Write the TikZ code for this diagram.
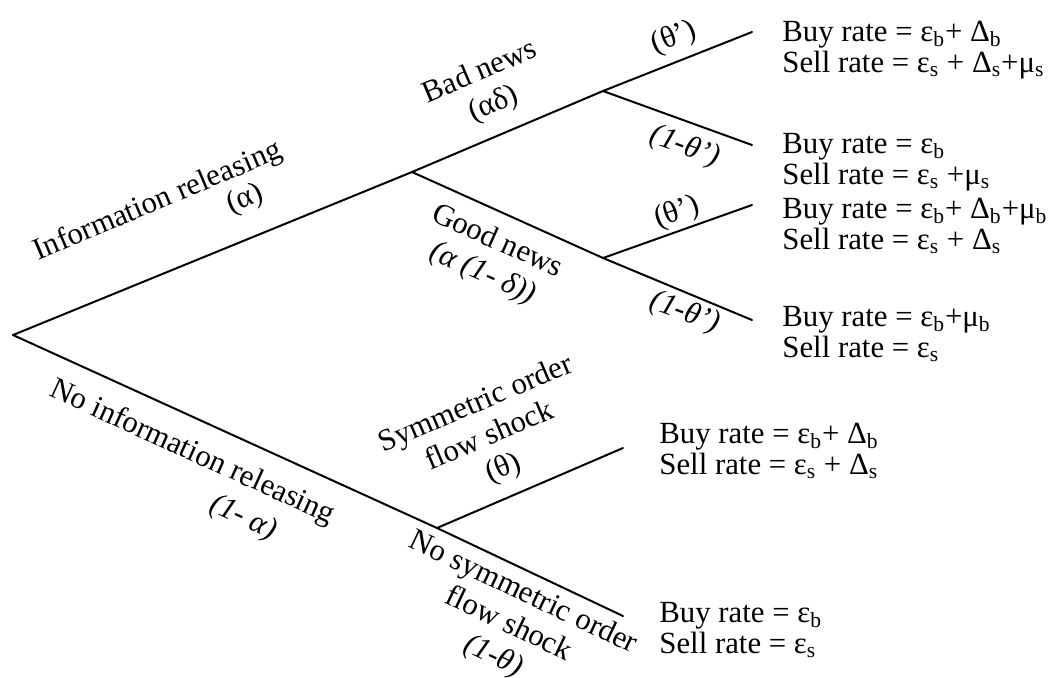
\documentclass[tikz,border=0pt]{standalone}
\usepackage{fontspec}
\setmainfont{Liberation Serif}
\newcommand{\rsub}[1]{\textsubscript{#1}}

\begin{document}
\begin{tikzpicture}[
    x=0.5pt, y=-0.5pt,
    branch/.style={draw, line width=1pt, line cap=round},
    lbl/.style={font=\fontsize{15.4}{17.5}\selectfont, align=center, inner sep=0pt},
    lbli/.style={lbl, font=\fontsize{15.4}{17.5}\selectfont\itshape},
    rates/.style={anchor=west, align=left, inner sep=0pt, font=\fontsize{15.4}{15.5}\selectfont}
]
    \useasboundingbox (0,0) rectangle (1053,677);

    % tree points
    \coordinate (root)   at (13,335);
    \coordinate (info)   at (412,172);
    \coordinate (bad)    at (603,91);
    \coordinate (badup)  at (752,32);
    \coordinate (baddn)  at (752,145);
    \coordinate (good)   at (603,258);
    \coordinate (goodup) at (752,205);
    \coordinate (gooddn) at (752,320);
    \coordinate (noinfo) at (437,528);
    \coordinate (sym)    at (623,448);
    \coordinate (nosym)  at (623,616);

    \path [branch] (root)   -- (info);
    \path [branch] (info)   -- (bad);
    \path [branch] (bad)    -- (badup);
    \path [branch] (bad)    -- (baddn);
    \path [branch] (info)   -- (good);
    \path [branch] (good)   -- (goodup);
    \path [branch] (good)   -- (gooddn);
    \path [branch] (root)   -- (noinfo);
    \path [branch] (noinfo) -- (sym);
    \path [branch] (noinfo) -- (nosym);

    % branch labels
    \node [lbl,  rotate=23]    (infotxt)   at (158,202) {Information releasing};
    \node [lbl,  rotate=23]    (infoprob)  at (245,200) {(α)};
    \node [lbl,  rotate=23]    (badtxt)    at (487,89)  {Bad news\\(αδ)};
    \node [lbl,  rotate=22]    (badupp)    at (674,38)  {(θ’)};
    \node [lbli, rotate=-20]   (baddnp)    at (685,147) {(1-θ’)};
    \node [lbl,  rotate=-24]   (goodtxt)   at (490,258) {Good news\\\itshape(α (1- δ))};
    \node [lbl,  rotate=20]    (goodupp)   at (677,213) {(θ’)};
    \node [lbli, rotate=-20]   (gooddnp)   at (685,313) {(1-θ’)};
    \node [lbl,  rotate=-24.5] (noinfotxt) at (192,453) {No information releasing};
    \node [lbli, rotate=-24.5] (noinfoprob) at (243,518) {(1- α)};
    \node [lbl,  rotate=23]    (symtxt)    at (490,437) {Symmetric order\\flow shock\\(θ)};
    \node [lbl,  rotate=-25.4] (nosymtxt)  at (508,625) {No symmetric order\\flow shock\\\itshape(1-θ)};

    % outcomes
    \node [rates] (r1) at (782,50)  {Buy rate = ε\rsub{b}+ Δ\rsub{b}\\Sell rate = ε\rsub{s} + Δ\rsub{s}+μ\rsub{s}};
    \node [rates] (r2) at (782,162) {Buy rate = ε\rsub{b}\\Sell rate = ε\rsub{s} +μ\rsub{s}};
    \node [rates] (r3) at (782,226) {Buy rate = ε\rsub{b}+ Δ\rsub{b}+μ\rsub{b}\\Sell rate = ε\rsub{s} + Δ\rsub{s}};
    \node [rates] (r4) at (782,334) {Buy rate = ε\rsub{b}+μ\rsub{b}\\Sell rate = ε\rsub{s}};
    \node [rates] (r5) at (659,451) {Buy rate = ε\rsub{b}+ Δ\rsub{b}\\Sell rate = ε\rsub{s} + Δ\rsub{s}};
    \node [rates] (r6) at (659,630) {Buy rate = ε\rsub{b}\\Sell rate = ε\rsub{s}};
\end{tikzpicture}
\end{document}
